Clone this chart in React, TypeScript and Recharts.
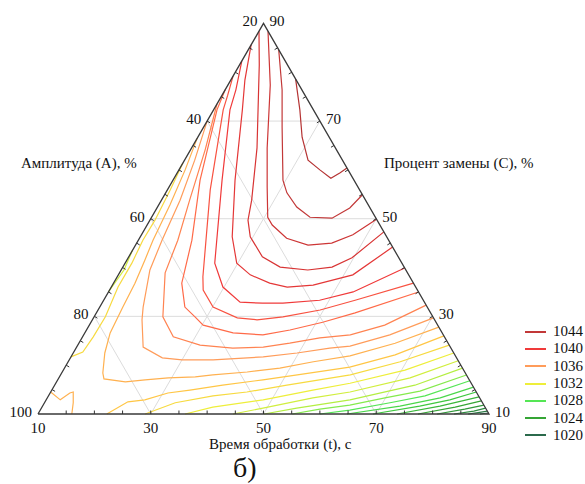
import React from "react";
import { ScatterChart, Scatter, XAxis, YAxis } from "recharts";

// every point is [t, C]; A = 120 - t - C
type TC = [number, number];

const line1045: TC[] = [[21.4, 78.6], [25.3, 72.3], [28.5, 66.7], [31.9, 62.0], [35.0, 60.0], [37.8, 58.3], [38.9, 59.4], [39.6, 60.4]];
const line1044: TC[] = [[15.4, 84.6], [20.1, 76.4], [23.9, 68.8], [29.5, 57.9], [31.5, 55.3], [34.7, 52.4], [38.1, 50.3], [42.1, 50.1], [44.2, 52.2], [45.1, 54.9]];
const line1043: TC[] = [[11.6, 88.4], [17.5, 77.4], [23.4, 64.5], [27.4, 56.5], [30.6, 50.3], [32.2, 48.7], [36.1, 46.0], [40.6, 44.6], [44.6, 45.0], [47.5, 46.7], [50.1, 49.9]];
const line1042: TC[] = [[10, 88.4], [13.5, 81.5], [21.6, 64.5], [26.0, 53.8], [27.4, 49.7], [29.5, 46.3], [33.7, 42.2], [37.9, 40.1], [43.1, 39.5], [47.1, 40.1], [49.7, 42.0], [52.7, 47.3]];
const line1041: TC[] = [[10, 85.6], [12.5, 78.4], [15.1, 72.3], [21.0, 57.9], [26.3, 46.3], [29.8, 40.9], [33.4, 38.5], [37.7, 36.8], [41.2, 36.0], [45.6, 36.4], [51.6, 38.5], [55.8, 44.2]];
const line1040: TC[] = [[10, 82.3], [11.9, 76.4], [12.9, 72.3], [18.7, 57.9], [25.9, 40.9], [29.8, 36.0], [34.4, 32.9], [38.5, 32.7], [42.1, 32.7], [48.3, 33.3], [53.4, 35.0], [60.1, 39.9]];
const line1039: TC[] = [[10, 79.2], [11.0, 75.3], [11.7, 72.3], [17.6, 55.9], [25.2, 38.1], [26.6, 35.4], [30.1, 31.9], [35.5, 29.7], [39.2, 29.3], [43.5, 29.9], [49.4, 31.3], [54.6, 33.3], [63.2, 36.8]];
const line1038: TC[] = [[10, 76.4], [10.6, 72.3], [14.8, 57.9], [19.5, 45.6], [22.1, 36.8], [25.1, 31.9], [27.9, 29.9], [30.2, 28.2], [36.3, 26.6], [41.8, 26.2], [46.1, 27.2], [51.1, 28.8], [55.9, 30.7], [65.0, 35.0]];
const line1037: TC[] = [[10, 73.5], [12.6, 64.1], [15.0, 53.8], [17.0, 45.6], [18.1, 38.9], [22.2, 29.9], [26.1, 25.8], [31.7, 24.1], [37.8, 23.5], [43.1, 23.7], [47.4, 24.5], [52.2, 25.6], [57.3, 26.2], [62.4, 28.2], [67.7, 32.3]];
const line1036: TC[] = [[10, 70.0], [11.8, 62.0], [13.3, 53.8], [14.2, 45.6], [15.1, 39.5], [17.7, 31.9], [18.8, 29.3], [21.8, 23.7], [26.3, 21.5], [30.0, 21.1], [35.5, 21.1], [44.1, 21.7], [49.7, 22.5], [55.0, 23.5], [58.4, 23.9], [64.3, 26.2], [70.3, 29.7]];
const line1035: TC[] = [[10, 66.5], [11.1, 60.0], [12.0, 52.8], [12.6, 45.6], [13.2, 41.5], [13.8, 36.8], [14.1, 31.9], [14.5, 26.6], [15.6, 22.5], [17.3, 18.4], [18.1, 17.2], [22.2, 16.6], [25.5, 17.0], [29.4, 17.4], [34.1, 17.6], [37.0, 18.0], [42.8, 18.6], [48.2, 19.4], [53.5, 20.7], [59.4, 21.9], [66.1, 24.5], [72.2, 27.8]];
const line1034: TC[] = [[22.2, 10], [24.7, 12.5], [27.5, 12.9], [30.9, 14.3], [34.5, 14.9], [39.8, 15.9], [46.4, 17.0], [52.0, 18.0], [60.5, 19.6], [67.3, 22.1], [74.0, 26.0]];
const line1033: TC[] = [[29.0, 10], [33.2, 12.3], [39.2, 13.7], [44.8, 14.5], [51.2, 15.9], [61.4, 18.0], [68.9, 20.7], [75.9, 24.1]];
const line1032: TC[] = [[36.1, 10], [40.3, 11.4], [48.5, 12.9], [56.3, 14.9], [62.2, 16.3], [70.6, 19.0], [77.5, 22.5]];
const line1031: TC[] = [[44.6, 10], [49.3, 11.2], [57.1, 13.3], [63.1, 14.5], [72.3, 17.4], [79.1, 20.9]];
const line1030: TC[] = [[50.1, 10], [55.3, 11.2], [63.9, 12.9], [73.9, 15.9], [80.6, 19.4]];
const line1029: TC[] = [[55.1, 10], [59.5, 11.0], [64.4, 11.8], [69.9, 13.3], [75.4, 14.7], [82.0, 18.0]];
const line1028: TC[] = [[60.0, 10], [64.9, 10.8], [71.3, 12.3], [76.8, 13.7], [83.2, 16.8]];
const line1027: TC[] = [[64.8, 10], [73.4, 11.6], [79.7, 13.3], [84.5, 15.5]];
const line1026: TC[] = [[69.4, 10], [76.9, 11.6], [81.6, 12.9], [85.5, 14.5]];
const line1025: TC[] = [[73.7, 10], [80.5, 11.6], [83.9, 12.7], [86.5, 13.5]];
const line1024: TC[] = [[77.4, 10], [83.3, 11.4], [87.3, 12.7]];
const line1023: TC[] = [[80.8, 10], [85.2, 11.0], [88.2, 11.8]];
const line1022: TC[] = [[83.8, 10], [87.0, 10.6], [88.8, 11.2]];
const line1021: TC[] = [[86.3, 10], [87.9, 10.3], [89.4, 10.6]];
const line1020: TC[] = [[88.4, 10], [89.8, 10.2]];

// small closed-off pieces along the left edge / corner
const loop1033: TC[] = [[10, 61.4], [10.5, 55.9], [10.9, 49.7], [10.8, 45.6], [11.2, 40.9], [11.2, 36.0], [12.0, 29.9], [11.9, 25.8], [11.6, 22.7], [10, 21.7]];
const edge1031: TC[] = [[10, 43.5], [10.5, 39.5], [10, 35.0]];
const corner1035: TC[] = [[10, 14.5], [12.5, 12.9], [13.5, 14.3], [14.0, 14.5], [15.1, 12.3], [16.0, 10]];

const contours: [number, TC[]][] = [
  [1045, line1045], [1044, line1044], [1043, line1043], [1042, line1042], [1041, line1041],
  [1040, line1040], [1039, line1039], [1038, line1038], [1037, line1037], [1036, line1036],
  [1035, line1035], [1034, line1034], [1033, line1033], [1032, line1032], [1031, line1031],
  [1030, line1030], [1029, line1029], [1028, line1028], [1027, line1027], [1026, line1026],
  [1025, line1025], [1024, line1024], [1023, line1023], [1022, line1022], [1021, line1021],
  [1020, line1020], [1033, loop1033], [1031, edge1031], [1035, corner1035],
];

const legendLevels = [1044, 1040, 1036, 1032, 1028, 1024, 1020];
const leftTicks = [100, 80, 60, 40, 20]; // A
const rightTicks = [10, 30, 50, 70, 90]; // C
const bottomTicks = [10, 30, 50, 70, 90]; // t
const minorTicks = [15, 20, 25, 30, 35, 40, 45, 50, 55, 60, 65, 70, 75, 80, 85];
const gridSteps = [30, 50, 70];

const palette: [number, string][] = [
  [1020, "#2b6a4c"],
  [1022, "#2d8a3f"],
  [1024, "#35a535"],
  [1026, "#3fc83f"],
  [1028, "#55e655"],
  [1030, "#b4ee42"],
  [1032, "#eeee3a"],
  [1034, "#ffc645"],
  [1036, "#ff9c5a"],
  [1038, "#ff6a48"],
  [1040, "#f03a3a"],
  [1042, "#d83434"],
  [1044, "#c23838"],
  [1046, "#a82e2e"],
];

function levelColor(v: number) {
  for (let i = 0; i < palette.length - 1; i++) {
    const [l0, c0] = palette[i];
    const [l1, c1] = palette[i + 1];
    if (v >= l0 && v <= l1) {
      const k = (v - l0) / (l1 - l0);
      const a = parseInt(c0.slice(1), 16);
      const b = parseInt(c1.slice(1), 16);
      const ch = (s: number) => Math.round(((a >> s) & 255) * (1 - k) + ((b >> s) & 255) * k);
      return `rgb(${ch(16)},${ch(8)},${ch(0)})`;
    }
  }
  return v < palette[0][0] ? palette[0][1] : palette[palette.length - 1][1];
}

const W = 585;
const H = 484;
const FONT = "'Liberation Serif', 'Times New Roman', serif";
const SIN60 = Math.sqrt(3) / 2;

// ternary -> plane, triangle side = 1
const toXY = (t: number, c: number) => ({
  x: (t - 10) / 80 + (c - 10) / 160,
  y: ((c - 10) / 80) * SIN60,
});
const path = (arr: TC[]) => arr.map(([t, c]) => toXY(t, c));

const X_DOMAIN = [-38 / 451, 547 / 451];
const Y_DOMAIN = [-70 / 451, 414 / 451];

const triangle: TC[] = [[10, 10], [90, 10], [10, 90], [10, 10]];

const gridLines: TC[][] = [
  ...gridSteps.map((c) => [[10, c], [100 - c, c]] as TC[]),
  ...gridSteps.map((t) => [[t, 10], [t, 100 - t]] as TC[]),
  ...gridSteps.map((t) => [[10, t], [t, 10]] as TC[]),
];

const NoDot = () => <g />;

const tickShape = (dx: number, dy: number) => (p: any) => (
  <line x1={p.cx} y1={p.cy} x2={p.cx + dx} y2={p.cy + dy} stroke="#333" strokeWidth={1} />
);

const textProps = { fontFamily: FONT, fontSize: 15, fill: "#111" };

export default function App() {
  const leftLabels = leftTicks.map((a) => ({ ...toXY(10, 110 - a), label: a }));
  const rightLabels = rightTicks.map((c) => ({ ...toXY(100 - c, c), label: c }));
  const bottomLabels = bottomTicks.map((t) => ({ ...toXY(t, 10), label: t }));

  return (
    <div style={{ position: "absolute", left: 0, top: 0, width: W, height: H, background: "#fff" }}>
      <ScatterChart width={W} height={H} margin={{ top: 0, right: 0, bottom: 0, left: 0 }}>
        <XAxis type="number" dataKey="x" domain={X_DOMAIN} allowDataOverflow hide />
        <YAxis type="number" dataKey="y" domain={Y_DOMAIN} allowDataOverflow hide />

        {/* grid */}
        {gridLines.map((g, i) => (
          <Scatter
            key={`grid${i}`}
            data={path(g)}
            line={{ stroke: "#dcdcdc", strokeWidth: 1 }}
            shape={NoDot}
            isAnimationActive={false}
          />
        ))}

        {/* contour lines */}
        {contours.map(([level, pts], i) => (
          <Scatter
            key={`c${i}`}
            data={path(pts)}
            line={{ stroke: levelColor(level), strokeWidth: 1.2 }}
            shape={NoDot}
            isAnimationActive={false}
          />
        ))}

        {/* triangle */}
        <Scatter
          data={path(triangle)}
          line={{ stroke: "#3a3a3a", strokeWidth: 1.3 }}
          shape={NoDot}
          isAnimationActive={false}
        />

        {/* minor ticks */}
        <Scatter data={minorTicks.map((c) => toXY(10, c))} shape={tickShape(3, 1.8)} isAnimationActive={false} />
        <Scatter data={minorTicks.map((c) => toXY(100 - c, c))} shape={tickShape(-3, 1.8)} isAnimationActive={false} />
        <Scatter data={minorTicks.map((t) => toXY(t, 10))} shape={tickShape(0, -3.5)} isAnimationActive={false} />

        {/* tick labels */}
        <Scatter
          data={leftLabels}
          isAnimationActive={false}
          shape={(p: any) => (
            <text x={p.cx - 6} y={p.cy + 3} textAnchor="end" {...textProps}>
              {p.payload.label}
            </text>
          )}
        />
        <Scatter
          data={rightLabels}
          isAnimationActive={false}
          shape={(p: any) => (
            <text x={p.cx + 6} y={p.cy + 3} textAnchor="start" {...textProps}>
              {p.payload.label}
            </text>
          )}
        />
        <Scatter
          data={bottomLabels}
          isAnimationActive={false}
          shape={(p: any) => (
            <text x={p.cx} y={p.cy + 19} textAnchor="middle" {...textProps}>
              {p.payload.label}
            </text>
          )}
        />
      </ScatterChart>

      {/* axis titles */}
      <svg width={W} height={H} style={{ position: "absolute", left: 0, top: 0, pointerEvents: "none" }}>
        <text x={21} y={168} {...textProps}>Амплитуда (A), %</text>
        <text x={384} y={168} {...textProps}>Процент замены (C), %</text>
        <text x={209} y={449} {...textProps}>Время обработки (t), с</text>
        <text x={233} y={477} fontFamily={FONT} fontSize={28} fill="#111">б)</text>
      </svg>

      {/* legend */}
      <div style={{ position: "absolute", left: 525, top: 323, fontFamily: FONT, fontSize: 15, color: "#111" }}>
        {legendLevels.map((lv) => (
          <div key={lv} style={{ display: "flex", alignItems: "center", height: 17.3 }}>
            <span style={{ display: "block", width: 21, height: 2, background: levelColor(lv), marginRight: 7 }} />
            <span>{lv}</span>
          </div>
        ))}
      </div>
    </div>
  );
}
